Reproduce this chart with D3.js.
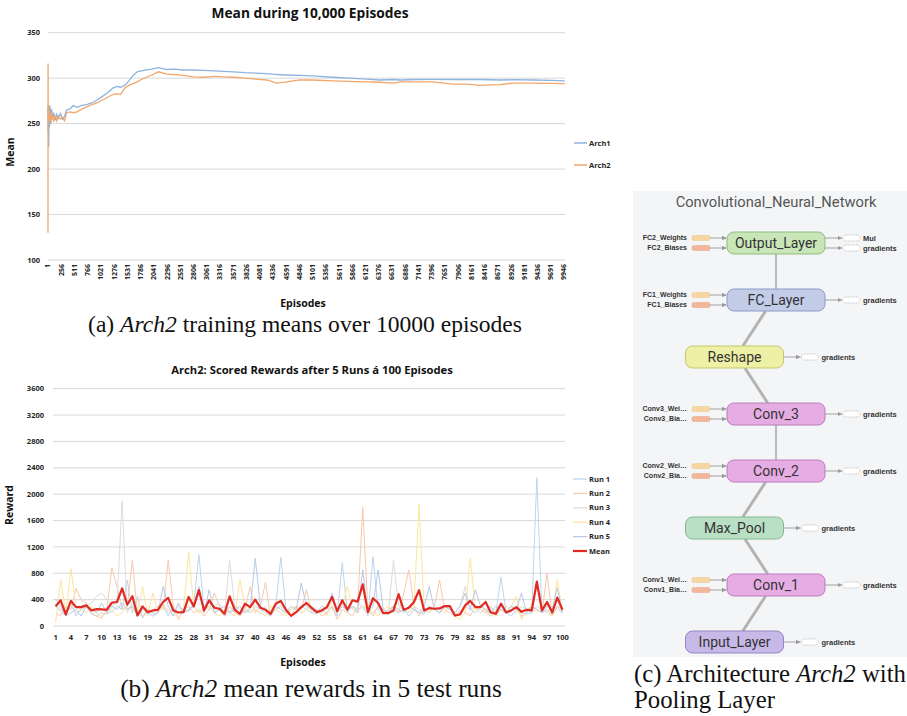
<!DOCTYPE html>
<html>
<head>
<meta charset="utf-8">
<script src="https://cdn.jsdelivr.net/npm/d3@7"></script>
<style>
  body { margin: 0; background: #fff; }
  svg { display: block; }
</style>
</head>
<body>
<svg width="907" height="716"></svg>
<script>
// ---- panel (a): running mean over 10,000 episodes ----
const meanTicks = [100, 150, 200, 250, 300, 350];
const episodeTicks = d3.range(1, 10000, 255); // 1, 256, ... 9946
const trainEpisodes = [1, 2, 5, 10, 15, 20, 30, 40, 55, 70, 90, 110, 140, 170, 200, 240, 280, 320, 360, 420,
  490, 560, 650, 750, 850, 950, 1050, 1150, 1250, 1330, 1400, 1480, 1560, 1640, 1720, 1800, 1900, 2000, 2130, 2290,
  2450, 2600, 2800, 3000, 3200, 3400, 3570, 3800, 4000, 4220, 4410, 4600, 4860, 5100, 5490, 5800, 6150, 6400, 6660, 6790,
  7100, 7420, 7800, 8070, 8330, 8710, 8960, 9350, 9700, 9960];
const arch1 = [260, 270, 240, 262, 224, 268, 246, 270, 250, 266, 255, 262, 254, 260, 256, 261, 255, 258, 265, 266,
  270, 268, 270, 271, 273, 276, 280, 284, 289, 291, 290, 292, 297, 303, 307, 308, 309, 310, 311.5, 309.5,
  310, 309, 309, 308.5, 308, 307.5, 307, 306, 305.5, 305, 304, 303.5, 303, 302.5, 301, 300, 299, 298, 298.5, 298,
  298.5, 298.7, 298.5, 298.7, 298.5, 298, 298.3, 298, 297.5, 297];
const arch2 = [130, 316, 262, 250, 270, 252, 264, 252, 262, 254, 260, 252, 258, 253, 258, 255, 257, 253, 262, 263,
  262, 263, 266, 268.5, 271, 273, 276, 279, 282, 283, 282, 289, 292, 294, 296, 298.5, 301, 303.5, 307, 304.5,
  304, 303, 301.5, 301, 302, 301.5, 301, 300, 299, 298, 294.5, 296, 298, 298, 297, 296.5, 296, 295.5, 294.5, 296,
  296, 296, 293.5, 293.5, 292, 292.8, 294.5, 294.5, 294.3, 294];

// ---- panel (b): rewards of 5 test runs x 100 episodes ----
const rewardTicks = [0, 400, 800, 1200, 1600, 2000, 2400, 2800, 3200, 3600];
const testEpisodes = d3.range(1, 101);
const run1 = [300, 220, 160, 380, 150, 260, 300, 180, 150, 200,
  180, 220, 300, 250, 700, 200, 450, 120, 260, 180,
  200, 300, 150, 280, 200, 260, 220, 350, 1080, 250,
  300, 200, 250, 150, 220, 300, 180, 250, 200, 300,
  250, 200, 150, 300, 1040, 250, 150, 200, 300, 250,
  200, 180, 250, 200, 300, 150, 960, 200, 300, 250,
  300, 150, 1050, 250, 200, 180, 250, 200, 250, 150,
  250, 200, 180, 300, 250, 200, 300, 250, 150, 200,
  300, 250, 200, 300, 250, 150, 200, 740, 200, 150,
  250, 200, 180, 200, 2250, 200, 250, 150, 300, 200];
const run2 = [200, 150, 300, 250, 570, 400, 350, 200, 150, 120,
  250, 880, 600, 250, 300, 1000, 200, 150, 250, 200,
  300, 250, 1000, 300, 100, 250, 300, 200, 250, 150,
  250, 500, 300, 150, 300, 200, 150, 250, 600, 200,
  300, 660, 150, 250, 300, 200, 150, 300, 250, 550,
  200, 250, 150, 200, 300, 100, 250, 200, 150, 300,
  1800, 250, 150, 300, 200, 250, 300, 200, 500, 850,
  300, 150, 250, 200, 300, 700, 250, 200, 150, 250,
  200, 150, 300, 250, 200, 300, 150, 250, 200, 300,
  250, 150, 200, 300, 250, 200, 800, 150, 300, 250];
const run3 = [350, 250, 200, 300, 200, 250, 300, 350, 450, 500,
  400, 300, 350, 1900, 200, 350, 250, 150, 200, 250,
  300, 350, 200, 250, 300, 200, 250, 300, 200, 300,
  250, 300, 350, 200, 1000, 300, 250, 200, 300, 250,
  200, 300, 150, 250, 300, 200, 250, 300, 200, 250,
  300, 250, 200, 300, 250, 200, 300, 250, 400, 350,
  300, 250, 200, 300, 250, 200, 1000, 300, 250, 200,
  300, 250, 200, 300, 250, 200, 300, 250, 200, 300,
  600, 250, 300, 200, 250, 300, 200, 250, 300, 250,
  200, 300, 250, 200, 300, 250, 200, 300, 250, 200];
const run4 = [50, 700, 200, 870, 300, 250, 200, 300, 200, 150,
  200, 250, 150, 200, 300, 250, 200, 600, 150, 500,
  200, 300, 250, 150, 200, 250, 1120, 300, 200, 250,
  300, 200, 150, 250, 200, 150, 700, 300, 200, 250,
  200, 150, 300, 250, 200, 150, 250, 300, 200, 250,
  300, 200, 250, 150, 450, 200, 300, 600, 250, 200,
  300, 250, 200, 150, 250, 300, 200, 500, 250, 200,
  300, 1850, 250, 200, 300, 250, 200, 300, 150, 100,
  200, 1030, 250, 300, 200, 150, 200, 250, 200, 300,
  450, 100, 250, 300, 200, 300, 200, 150, 700, 200];
const run5 = [400, 300, 150, 200, 250, 150, 300, 250, 200, 350,
  200, 300, 250, 350, 250, 300, 150, 250, 200, 150,
  200, 600, 300, 150, 350, 200, 250, 300, 600, 200,
  550, 200, 250, 300, 200, 250, 300, 200, 250, 1030,
  300, 250, 200, 300, 250, 200, 300, 250, 650, 300,
  250, 200, 300, 250, 500, 200, 300, 250, 300, 200,
  850, 200, 300, 850, 250, 200, 300, 250, 200, 300,
  250, 200, 300, 600, 250, 200, 300, 250, 200, 300,
  500, 250, 550, 300, 250, 200, 300, 250, 200, 300,
  250, 500, 200, 300, 250, 200, 300, 250, 580, 200];
const runMean = [298, 390, 175, 380, 287, 287, 313, 236, 256, 251,
  246, 354, 364, 570, 323, 451, 159, 298, 210, 236,
  246, 364, 426, 236, 205, 210, 441, 298, 544, 236,
  390, 277, 262, 185, 451, 246, 185, 339, 287, 400,
  277, 246, 185, 339, 380, 246, 154, 210, 287, 349,
  277, 210, 236, 287, 441, 226, 390, 246, 390, 370,
  631, 210, 421, 349, 195, 195, 236, 482, 246, 277,
  364, 544, 236, 272, 262, 267, 303, 303, 159, 175,
  313, 380, 287, 287, 364, 205, 185, 339, 205, 236,
  287, 215, 246, 236, 672, 236, 364, 205, 431, 246];
const runNames = ["Run 1", "Run 2", "Run 3", "Run 4", "Run 5", "Mean"];
const runColors = ["#bcd5ee", "#f7c9ab", "#dcdcdc", "#ffe49a", "#b7c8e8", "#e02a22"];

// ---- panel (c): network graph ----
const layerNames = ["Output_Layer", "FC_Layer", "Reshape", "Conv_3", "Conv_2", "Max_Pool", "Conv_1", "Input_Layer"];
const layerKinds = ["output", "fc", "reshape", "conv", "conv", "pool", "conv", "input"];
const layerInputs = [["FC2_Weights", "FC2_Biases"], ["FC1_Weights", "FC1_Biases"], [],
  ["Conv3_Wei…", "Conv3_Bia…"], ["Conv2_Wei…", "Conv2_Bia…"], [], ["Conv1_Wei…", "Conv1_Bia…"], []];
const layerOutputs = [["Mul", "gradients"], ["gradients"], ["gradients"], ["gradients"],
  ["gradients"], ["gradients"], ["gradients"], ["gradients"]];

const svg = d3.select("svg");
const sans = "'Open Sans', 'Liberation Sans', sans-serif";
const serif = "'Liberation Serif', 'DejaVu Serif', serif";
const gridColor = "#d9d9d9";
const tickColor = "#262626";

function fit(sel, w) {
  const len = sel.node().getComputedTextLength();
  sel.attr("font-size", parseFloat(sel.attr("font-size")) * w / len);
}

// ================= panel (a) =================
const xA = d3.scaleLinear().domain([1, 9946]).range([48, 564]);
const yA = d3.scaleLinear().domain([100, 350]).range([260, 32.7]);
const gA = svg.append("g");

gA.selectAll(".grid").data(meanTicks).join("line")
  .attr("x1", 48).attr("x2", 565)
  .attr("y1", d => yA(d)).attr("y2", d => yA(d))
  .attr("stroke", gridColor);
gA.selectAll(".ylab").data(meanTicks).join("text")
  .attr("x", 40).attr("y", d => yA(d)).attr("dy", "0.35em")
  .attr("text-anchor", "end").attr("font-family", sans).attr("font-size", 7.5)
  .attr("font-weight", "bold").attr("fill", tickColor).text(d => d);
gA.selectAll(".xlab").data(episodeTicks).join("text")
  .attr("transform", d => `translate(${xA(d)},264) rotate(-90)`).attr("dy", "0.35em")
  .attr("text-anchor", "end").attr("font-family", sans).attr("font-size", 7)
  .attr("font-weight", "bold").attr("fill", tickColor).text(d => d);

const lineA = d3.line().x((d, i) => xA(trainEpisodes[i])).y(d => yA(d));
gA.append("path").datum(arch1).attr("d", lineA)
  .attr("fill", "none").attr("stroke", "#8db4de").attr("stroke-width", 1.3);
gA.append("path").datum(arch2).attr("d", lineA)
  .attr("fill", "none").attr("stroke", "#f2a66a").attr("stroke-width", 1.3);

const tA = gA.append("text").attr("x", 310).attr("y", 18).attr("text-anchor", "middle")
  .attr("font-family", sans).attr("font-size", 13).attr("font-weight", "bold").attr("fill", "#111")
  .text("Mean during 10,000 Episodes");
fit(tA, 197);
gA.append("text").attr("x", 303).attr("y", 303).attr("dy", "0.35em").attr("text-anchor", "middle")
  .attr("font-family", sans).attr("font-size", 10.5).attr("font-weight", "bold").attr("fill", "#111")
  .text("Episodes");
gA.append("text").attr("transform", "translate(10,152) rotate(-90)").attr("dy", "0.35em")
  .attr("text-anchor", "middle").attr("font-family", sans).attr("font-size", 10.5)
  .attr("font-weight", "bold").attr("fill", "#111").text("Mean");

[["Arch1", "#8db4de", 143], ["Arch2", "#f2a66a", 165]].forEach(([name, c, y]) => {
  gA.append("line").attr("x1", 574).attr("x2", 587).attr("y1", y).attr("y2", y)
    .attr("stroke", c).attr("stroke-width", 1.5);
  gA.append("text").attr("x", 589).attr("y", y).attr("dy", "0.35em")
    .attr("font-family", sans).attr("font-size", 7.5).attr("font-weight", "bold")
    .attr("fill", tickColor).text(name);
});

const capA = svg.append("text").attr("x", 305).attr("y", 332).attr("text-anchor", "middle")
  .attr("font-family", serif).attr("font-size", 21).attr("fill", "#111");
capA.append("tspan").text("(a) ");
capA.append("tspan").attr("font-style", "italic").text("Arch2");
capA.append("tspan").text(" training means over 10000 episodes");
fit(capA, 434);

// ================= panel (b) =================
const xB = d3.scalePoint().domain(testEpisodes).range([53, 565]).padding(0.5);
const yB = d3.scaleLinear().domain([0, 3600]).range([626, 388.7]);
const gB = svg.append("g");

gB.selectAll(".grid").data(rewardTicks).join("line")
  .attr("x1", 53).attr("x2", 565)
  .attr("y1", d => yB(d)).attr("y2", d => yB(d))
  .attr("stroke", gridColor);
gB.selectAll(".ylab").data(rewardTicks).join("text")
  .attr("x", 44).attr("y", d => yB(d)).attr("dy", "0.35em")
  .attr("text-anchor", "end").attr("font-family", sans).attr("font-size", 7.5)
  .attr("font-weight", "bold").attr("fill", tickColor).text(d => d);
gB.selectAll(".xlab").data(testEpisodes.filter(d => (d - 1) % 3 === 0)).join("text")
  .attr("x", d => xB(d)).attr("y", 637).attr("dy", "0.35em")
  .attr("text-anchor", "middle").attr("font-family", sans).attr("font-size", 7.5)
  .attr("font-weight", "bold").attr("fill", tickColor).text(d => d);

const lineB = d3.line().x((d, i) => xB(testEpisodes[i])).y(d => yB(d));
const runs = [run1, run2, run3, run4, run5, runMean];
runs.forEach((r, i) => {
  gB.append("path").datum(r).attr("d", lineB).attr("fill", "none")
    .attr("stroke", runColors[i]).attr("stroke-width", i === 5 ? 2.2 : 1)
    .attr("stroke-linejoin", "round");
});

const tB = gB.append("text").attr("x", 312).attr("y", 374).attr("text-anchor", "middle")
  .attr("font-family", sans).attr("font-size", 11).attr("font-weight", "bold").attr("fill", "#111")
  .text("Arch2: Scored Rewards after 5 Runs á 100 Episodes");
fit(tB, 282);
gB.append("text").attr("x", 303).attr("y", 662).attr("dy", "0.35em").attr("text-anchor", "middle")
  .attr("font-family", sans).attr("font-size", 10.5).attr("font-weight", "bold").attr("fill", "#111")
  .text("Episodes");
gB.append("text").attr("transform", "translate(9,505) rotate(-90)").attr("dy", "0.35em")
  .attr("text-anchor", "middle").attr("font-family", sans).attr("font-size", 10.5)
  .attr("font-weight", "bold").attr("fill", "#111").text("Reward");

const legY = d3.scalePoint().domain(runNames).range([479, 551]);
runNames.forEach((name, i) => {
  gB.append("line").attr("x1", 573).attr("x2", 587).attr("y1", legY(name)).attr("y2", legY(name))
    .attr("stroke", runColors[i]).attr("stroke-width", i === 5 ? 2.2 : 1.3);
  gB.append("text").attr("x", 589).attr("y", legY(name)).attr("dy", "0.35em")
    .attr("font-family", sans).attr("font-size", 7.5).attr("font-weight", "bold")
    .attr("fill", tickColor).text(name);
});

const capB = svg.append("text").attr("x", 311).attr("y", 697).attr("text-anchor", "middle")
  .attr("font-family", serif).attr("font-size", 21).attr("fill", "#111");
capB.append("tspan").text("(b) ");
capB.append("tspan").attr("font-style", "italic").text("Arch2");
capB.append("tspan").text(" mean rewards in 5 test runs");
fit(capB, 382);

// ================= panel (c) =================
const gC = svg.append("g");
gC.append("rect").attr("x", 633).attr("y", 191).attr("width", 274).attr("height", 466)
  .attr("fill", "#f4f5f7");

const defs = svg.append("defs");
defs.append("marker").attr("id", "arr").attr("viewBox", "0 0 10 10")
  .attr("refX", 10).attr("refY", 5).attr("markerWidth", 5).attr("markerHeight", 5)
  .attr("orient", "auto").append("path").attr("d", "M0,0L10,5L0,10z").attr("fill", "#999");

const tC = gC.append("text").attr("x", 776).attr("y", 207).attr("text-anchor", "middle")
  .attr("font-family", "Roboto, sans-serif").attr("font-size", 13).attr("fill", "#555")
  .text("Convolutional_Neural_Network");
fit(tC, 201);

const rowY = d3.scalePoint().domain(layerNames).range([243, 642]);
const fills = d3.scaleOrdinal()
  .domain(["output", "fc", "reshape", "conv", "pool", "input"])
  .range(["#c8e6b8", "#c3cde8", "#eef0a6", "#e6ace4", "#b9dfc4", "#c6b9e8"]);
const strokes = d3.scaleOrdinal()
  .domain(["output", "fc", "reshape", "conv", "pool", "input"])
  .range(["#8dbd7d", "#8a9bc8", "#c6c66c", "#bb7cba", "#84b895", "#9585c5"]);

const nodes = layerNames.map((name, i) => {
  const w = 98, h = 22;
  const cx = layerInputs[i].length ? 776 : 734.5;
  return { name, kind: layerKinds[i], cx, cy: rowY(name), w, h, ins: layerInputs[i], outs: layerOutputs[i] };
});

// edges between consecutive layers
d3.pairs(nodes).forEach(([a, b]) => {
  const straight = a.cx === b.cx;
  const x1 = straight ? a.cx : a.cx + (b.cx - a.cx) * 0.25;
  const x2 = straight ? b.cx : b.cx - (b.cx - a.cx) * 0.2;
  gC.append("line")
    .attr("x1", x1).attr("y1", a.cy + a.h / 2).attr("x2", x2).attr("y2", b.cy - b.h / 2)
    .attr("stroke", straight ? "#aaa" : "#b3b3b3").attr("stroke-width", straight ? 1.6 : 3);
});

nodes.forEach(n => {
  const left = n.cx - n.w / 2, right = n.cx + n.w / 2;
  // inputs
  n.ins.forEach((label, j) => {
    const y = n.cy + (j === 0 ? -5 : 5);
    gC.append("rect").attr("x", 692).attr("y", y - 2.5).attr("width", 18).attr("height", 5).attr("rx", 1.5)
      .attr("fill", j === 0 ? "#f6d7a2" : "#f4b69a")
      .attr("stroke", j === 0 ? "#e2b872" : "#de9270").attr("stroke-width", 0.6).attr("stroke-dasharray", "1.5,1");
    gC.append("line").attr("x1", 710).attr("x2", left - 0.5).attr("y1", y).attr("y2", y)
      .attr("stroke", "#999").attr("stroke-width", 0.9).attr("marker-end", "url(#arr)");
    gC.append("text").attr("x", 687).attr("y", y).attr("dy", "0.35em").attr("text-anchor", "end")
      .attr("font-family", "'Liberation Sans', Arial, sans-serif").attr("font-size", 7)
      .attr("font-weight", "bold").attr("fill", "#333").text(label);
  });
  // outputs
  n.outs.forEach((label, j) => {
    const y = n.outs.length > 1 ? n.cy + (j === 0 ? -5 : 5) : n.cy;
    gC.append("line").attr("x1", right).attr("x2", right + 17).attr("y1", y).attr("y2", y)
      .attr("stroke", "#999").attr("stroke-width", 0.9).attr("marker-end", "url(#arr)");
    gC.append("rect").attr("x", right + 18).attr("y", y - 3).attr("width", 17).attr("height", 6).attr("rx", 3)
      .attr("fill", "#fff").attr("stroke", "#aaa").attr("stroke-width", 0.6).attr("stroke-dasharray", "1.5,1");
    gC.append("text").attr("x", right + 38).attr("y", y).attr("dy", "0.35em")
      .attr("font-family", "'Liberation Sans', Arial, sans-serif").attr("font-size", 7.5)
      .attr("font-weight", "bold").attr("fill", "#333").text(label);
  });
  gC.append("rect").attr("x", left).attr("y", n.cy - n.h / 2).attr("width", n.w).attr("height", n.h)
    .attr("rx", 7).attr("fill", fills(n.kind)).attr("stroke", strokes(n.kind)).attr("stroke-width", 1);
  gC.append("text").attr("x", n.cx).attr("y", n.cy).attr("dy", "0.36em").attr("text-anchor", "middle")
    .attr("font-family", "Roboto, sans-serif").attr("font-size", 14).attr("fill", "#333").text(n.name);
});

const capC1 = svg.append("text").attr("x", 634).attr("y", 682)
  .attr("font-family", serif).attr("font-size", 21).attr("fill", "#111");
capC1.append("tspan").text("(c) Architecture ");
capC1.append("tspan").attr("font-style", "italic").text("Arch2");
capC1.append("tspan").text(" with");
fit(capC1, 272);
svg.append("text").attr("x", 634).attr("y", 708)
  .attr("font-family", serif).attr("font-size", capC1.attr("font-size")).attr("fill", "#111")
  .text("Pooling Layer");
</script>
</body>
</html>
